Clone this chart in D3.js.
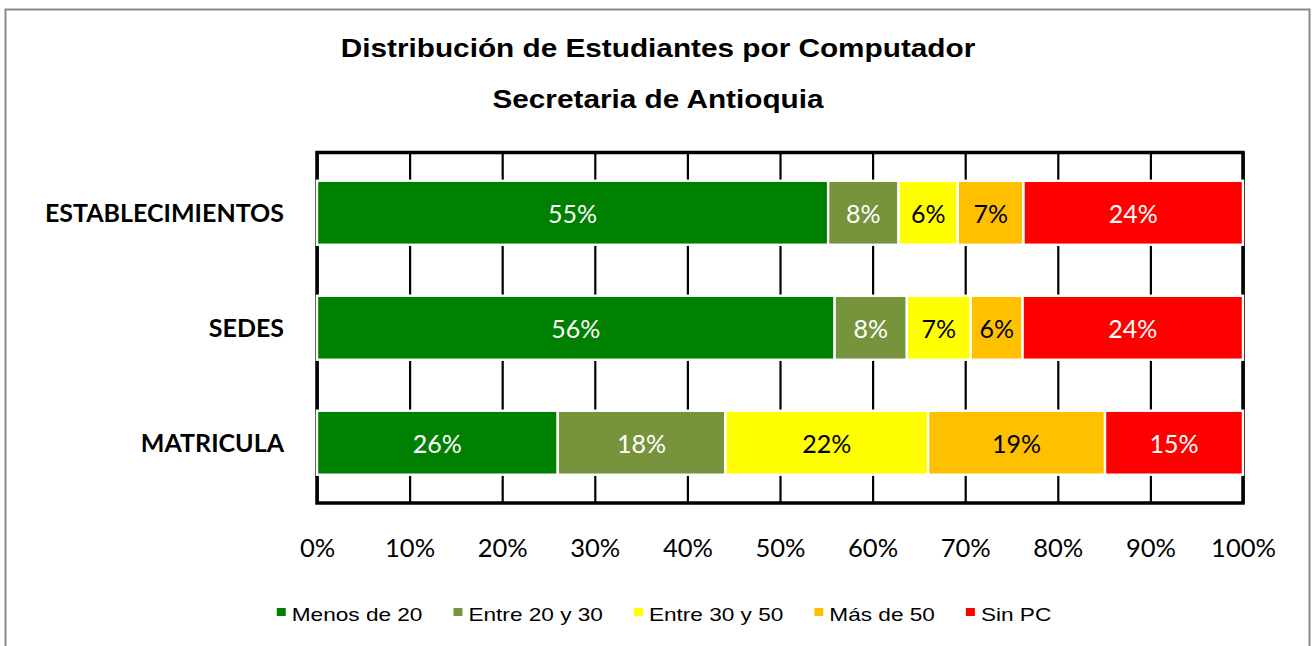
<!DOCTYPE html>
<html>
<head>
<meta charset="utf-8">
<script src="https://cdn.jsdelivr.net/npm/d3@7"></script>
<style>
  body { margin: 0; background: #fff; }
</style>
</head>
<body>
<div id="chart"></div>
<script>
const categories = ["ESTABLECIMIENTOS", "SEDES", "MATRICULA"];
const seriesNames = ["Menos de 20", "Entre 20 y 30", "Entre 30 y 50", "Más de 50", "Sin PC"];
const seriesColors = ["#008000", "#77933C", "#FFFF00", "#FFC000", "#FF0000"];
const labelColors = ["#ffffff", "#ffffff", "#000000", "#000000", "#ffffff"];

// share of each category, one array per series
const menosDe20 = [0.552, 0.559, 0.260];
const entre20y30 = [0.076, 0.078, 0.181];
const entre30y50 = [0.064, 0.069, 0.219];
const masDe50 = [0.071, 0.056, 0.191];
const sinPC = [0.237, 0.238, 0.149];

const xTicks = [0, 0.1, 0.2, 0.3, 0.4, 0.5, 0.6, 0.7, 0.8, 0.9, 1];
const titleLines = ["Distribución de Estudiantes por Computador", "Secretaria de Antioquia"];

const width = 1313;
const height = 646;
const plot = { left: 317, right: 1243, top: 152.5, bottom: 503 };

const seriesValues = [menosDe20, entre20y30, entre30y50, masDe50, sinPC];
const rows = categories.map((c, i) => {
  const row = { category: c };
  seriesNames.forEach((s, j) => row[s] = seriesValues[j][i]);
  return row;
});
const stacked = d3.stack().keys(seriesNames)(rows);

const xScale = d3.scaleLinear().domain([0, 1]).range([plot.left, plot.right]);
const yScale = d3.scaleBand()
  .domain(categories)
  .range([plot.top, plot.bottom])
  .paddingInner(0.4435)
  .paddingOuter(0.246);

const svg = d3.select("#chart")
  .append("svg")
  .attr("width", width)
  .attr("height", height)
  .attr("viewBox", `0 0 ${width} ${height}`);

// chart frame
svg.append("rect")
  .attr("x", 5.5)
  .attr("y", 9.5)
  .attr("width", 1304)
  .attr("height", 700)
  .attr("fill", "#fff")
  .attr("stroke", "#8a8a8a")
  .attr("stroke-width", 2);

const arial = "'Liberation Sans', Arial, sans-serif";
const calibri = "Lato, 'Open Sans', sans-serif";
const stretch = 1.19; // the Arial texts of the original are drawn wide

svg.selectAll("text.title")
  .data(titleLines)
  .join("text")
  .attr("class", "title")
  .attr("transform", (d, i) => `translate(658, ${i === 0 ? 57 : 108}) scale(${stretch}, 1)`)
  .attr("text-anchor", "middle")
  .attr("font-family", arial)
  .attr("font-weight", "bold")
  .attr("font-size", 25)
  .attr("fill", "#000")
  .text(d => d);

// gridlines + tick labels
const xAxisGroup = svg.append("g")
  .attr("transform", `translate(0, ${plot.bottom})`)
  .call(d3.axisBottom(xScale)
    .tickValues(xTicks)
    .tickFormat(d3.format(".0%"))
    .tickSize(-(plot.bottom - plot.top))
    .tickPadding(36));

xAxisGroup.select(".domain").remove();
xAxisGroup.selectAll(".tick line")
  .attr("stroke", "#000")
  .attr("stroke-width", 2.2);
xAxisGroup.selectAll(".tick text")
  .attr("font-family", calibri)
  .attr("font-size", 25.5)
  .attr("fill", "#000")
  .attr("dy", 0)
  .attr("y", 54);

// plot border
svg.append("rect")
  .attr("x", plot.left)
  .attr("y", plot.top)
  .attr("width", plot.right - plot.left)
  .attr("height", plot.bottom - plot.top)
  .attr("fill", "none")
  .attr("stroke", "#000")
  .attr("stroke-width", 3.5);

// bars
const barsGroup = svg.append("g");
const layers = barsGroup.selectAll("g")
  .data(stacked)
  .join("g")
  .attr("fill", (d, i) => seriesColors[i]);

layers.selectAll("rect")
  .data(d => d)
  .join("rect")
  .attr("x", d => xScale(d[0]))
  .attr("y", d => yScale(d.data.category))
  .attr("width", d => xScale(d[1]) - xScale(d[0]))
  .attr("height", yScale.bandwidth())
  .attr("stroke", "#fff")
  .attr("stroke-width", 2.4);

layers.selectAll("text")
  .data((d, i) => d.map(p => ({ p, i })))
  .join("text")
  .attr("x", d => (xScale(d.p[0]) + xScale(d.p[1])) / 2)
  .attr("y", d => yScale(d.p.data.category) + yScale.bandwidth() / 2)
  .attr("dy", "0.42em")
  .attr("text-anchor", "middle")
  .attr("font-family", calibri)
  .attr("font-size", 25)
  .attr("fill", d => labelColors[d.i])
  .text(d => d3.format(".0%")(d.p[1] - d.p[0]));

// category labels
svg.selectAll("text.cat")
  .data(categories)
  .join("text")
  .attr("class", "cat")
  .attr("x", 284)
  .attr("y", d => yScale(d) + yScale.bandwidth() / 2)
  .attr("dy", "0.38em")
  .attr("text-anchor", "end")
  .attr("font-family", calibri)
  .attr("font-weight", "bold")
  .attr("font-size", 25)
  .attr("fill", "#000")
  .text(d => d);

// legend
const legend = svg.append("g");
const items = legend.selectAll("g")
  .data(seriesNames)
  .join("g");

items.append("rect")
  .attr("x", 0)
  .attr("y", -13)
  .attr("width", 9)
  .attr("height", 8)
  .attr("fill", (d, i) => seriesColors[i]);

items.append("text")
  .attr("transform", `translate(15, 0) scale(${stretch}, 1)`)
  .attr("font-family", arial)
  .attr("font-size", 19)
  .attr("fill", "#000")
  .text(d => d);

let cursor = 0;
items.each(function () {
  const textWidth = d3.select(this).select("text").node().getComputedTextLength() * stretch;
  d3.select(this).attr("transform", `translate(${cursor}, 0)`);
  cursor += 15 + textWidth + 31;
});
const legendWidth = cursor - 31;
legend.attr("transform", `translate(${664 - legendWidth / 2}, 621)`);
</script>
</body>
</html>
